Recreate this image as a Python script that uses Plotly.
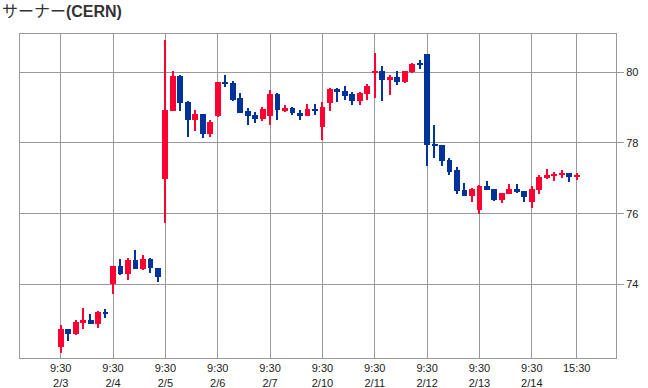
import plotly.graph_objects as go

title_name = "サーナー"
title_code = "(CERN)"

opens = [72.24, 72.74, 72.60, 72.92, 72.99, 72.89, 73.22,
         74.02, 74.52, 74.30, 74.69, 74.44, 74.72, 74.47,
         76.99, 78.91, 79.90, 79.16, 78.66, 78.82, 78.26,
         78.77, 79.72, 79.70, 79.28, 78.91, 78.80, 78.69,
         78.77, 79.37, 78.93, 78.99, 78.86, 78.77, 78.96,
         78.46, 79.14, 79.53, 79.47, 79.38, 79.20, 79.39,
         79.99, 80.04, 79.79, 79.87, 79.72, 80.01, 80.26,
         80.52, 77.97, 77.94, 77.52, 77.24, 76.67, 76.51,
         76.10, 76.78, 76.70, 76.39, 76.57, 76.70, 76.63,
         76.33, 76.68, 77.02, 77.09, 77.10, 77.15, 77.06]
highs = [72.85, 72.74, 72.99, 73.33, 73.16, 73.26, 73.30,
         74.53, 74.72, 74.74, 74.97, 74.83, 74.75, 74.47,
         80.91, 80.03, 79.92, 79.18, 78.93, 78.82, 78.65,
         79.73, 79.92, 79.75, 79.41, 78.99, 78.88, 79.02,
         79.50, 79.42, 79.07, 79.02, 78.93, 79.11, 79.11,
         79.16, 79.56, 79.55, 79.62, 79.43, 79.45, 79.67,
         80.55, 80.18, 79.93, 80.03, 80.04, 80.26, 80.35,
         80.52, 78.50, 77.94, 77.57, 77.32, 76.86, 76.72,
         76.81, 76.92, 76.70, 76.59, 76.84, 76.84, 76.65,
         76.78, 77.08, 77.26, 77.19, 77.24, 77.15, 77.15]
lows = [72.05, 72.41, 72.58, 72.75, 72.89, 72.77, 73.05,
        73.72, 74.27, 74.12, 74.44, 74.42, 74.33, 74.07,
        75.73, 78.91, 78.91, 78.18, 78.33, 78.15, 78.18,
        78.74, 79.59, 79.19, 78.86, 78.52, 78.56, 78.63,
        78.51, 78.65, 78.88, 78.80, 78.66, 78.77, 78.79,
        78.08, 78.89, 79.17, 79.22, 79.07, 79.08, 79.22,
        79.28, 79.19, 79.36, 79.64, 79.69, 79.98, 80.09,
        77.35, 77.58, 77.35, 77.09, 76.56, 76.51, 76.34,
        75.98, 76.68, 76.37, 76.29, 76.57, 76.58, 76.34,
        76.16, 76.57, 76.97, 76.93, 77.00, 76.91, 76.94]
closes = [72.73, 72.61, 72.94, 72.99, 72.89, 73.23, 73.18,
          74.53, 74.30, 74.69, 74.44, 74.72, 74.47, 74.22,
          78.93, 79.90, 79.14, 78.66, 78.82, 78.26, 78.59,
          79.73, 79.67, 79.22, 78.86, 78.77, 78.69, 78.96,
          79.37, 78.93, 78.98, 78.84, 78.77, 78.96, 78.92,
          79.03, 79.53, 79.45, 79.34, 79.20, 79.41, 79.61,
          80.04, 79.79, 79.87, 79.73, 80.04, 80.23, 80.21,
          77.95, 77.92, 77.50, 77.19, 76.65, 76.51, 76.69,
          76.78, 76.68, 76.39, 76.59, 76.70, 76.61, 76.47,
          76.69, 77.04, 77.09, 77.13, 77.16, 77.05, 77.08]

tick_positions = [0, 7, 14, 21, 28, 35, 42, 49, 56, 63, 69]
tick_labels = ["9:30<br>2/3", "9:30<br>2/4", "9:30<br>2/5", "9:30<br>2/6",
               "9:30<br>2/7", "9:30<br>2/10", "9:30<br>2/11", "9:30<br>2/12",
               "9:30<br>2/13", "9:30<br>2/14", "15:30"]
y_ticks = [74, 76, 78, 80]

UP = "#ff0033"
DOWN = "#003399"

x = list(range(len(opens)))
colors = [UP if c >= o else DOWN for o, c in zip(opens, closes)]
body_base = [min(o, c) for o, c in zip(opens, closes)]
body_h = [max(abs(c - o), 0.04) for o, c in zip(opens, closes)]
wick_base = lows
wick_h = [h - l for h, l in zip(highs, lows)]

fig = go.Figure()
fig.add_trace(go.Bar(x=x, y=wick_h, base=wick_base, width=0.16,
                     marker=dict(color=colors, line=dict(width=0)),
                     hoverinfo="skip", showlegend=False))
fig.add_trace(go.Bar(x=x, y=body_h, base=body_base, width=0.78,
                     marker=dict(color=colors, line=dict(width=0)),
                     hoverinfo="skip", showlegend=False))

fig.update_layout(
    width=648, height=388,
    margin=dict(l=20, r=32, t=34, b=30),
    paper_bgcolor="white", plot_bgcolor="white",
    barmode="overlay",
    bargap=0,
    font=dict(family="Liberation Sans, Arial, Noto Sans CJK JP", size=11, color="#222"),
    title=dict(text=title_name + "<b>" + title_code + "</b>",
               x=0.003, xref="container", xanchor="left",
               y=1 - 11 / 388, yref="container", yanchor="middle",
               font=dict(family="Liberation Sans, Arial, Noto Sans CJK JP", size=16, color="#333")),
    xaxis=dict(range=[-5.44, 74.26], tickmode="array", tickvals=tick_positions,
               ticktext=tick_labels, showgrid=True, gridcolor="#999", gridwidth=1,
               showline=True, mirror=True, linecolor="#999", linewidth=1,
               ticks="", zeroline=False, tickfont=dict(size=11), automargin=False),
    yaxis=dict(range=[71.92, 81.08], side="right", tickmode="array", tickvals=y_ticks,
               showgrid=True, gridcolor="#999", gridwidth=1,
               showline=True, mirror=True, linecolor="#999", linewidth=1,
               ticks="outside", ticklen=7, tickcolor="#999", zeroline=False,
               tickfont=dict(size=11), automargin=False),
)

fig.write_html("out.html", config={"displayModeBar": False},
               post_script="document.body.style.margin='0';document.body.style.overflow='hidden';")
